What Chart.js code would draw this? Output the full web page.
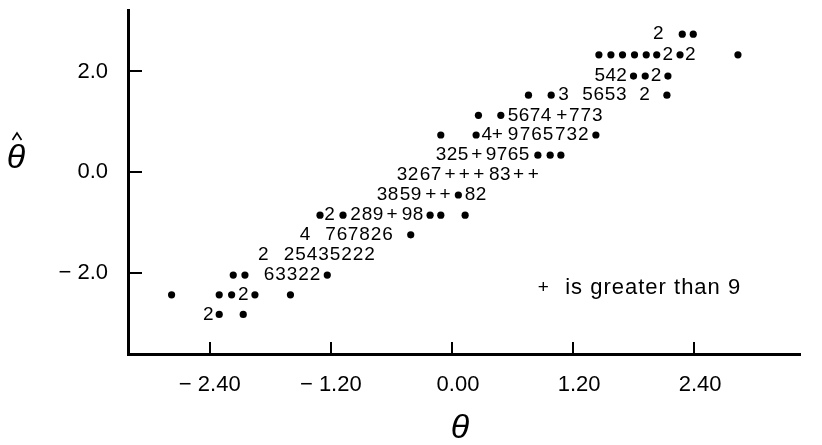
<!DOCTYPE html>
<html>
<head>
<meta charset="utf-8">
<script src="https://cdn.jsdelivr.net/npm/chart.js@4.4.1/dist/chart.umd.min.js"></script>
<style>
  body { margin: 0; background: #fff; }
</style>
</head>
<body>
<canvas id="chart" width="822" height="445"></canvas>
<script>
// axis ticks
const xTicks = [-2.4, -1.2, 0, 1.2, 2.4];
const xTickLabels = ['\u2212 2.40', '\u2212 1.20', '\u20070.00', '\u20071.20', '\u20072.40'];
const yTicks = [-2, 0, 2];
const yTickLabels = ['\u2212 2.0', '0.0', '2.0'];

// theta-hat value of each printed row (top to bottom)
const rowTheta = [2.74, 2.33, 1.91, 1.53, 1.13, 0.74, 0.34, -0.05, -0.45, -0.85, -1.24, -1.64, -2.04, -2.43, -2.82];

// what is printed in each row: a dot is one case, a digit is a count, + is more than 9
const rowSymbols = [
    '2••',
    '••••••2•2•',
    '542••2•',
    '••356532•',
    '••5674+773',
    '••4+9765732•',
    '325+9765•••',
    '3267+++83++',
    '3859++•82',
    '•2•289+98•••',
    '4767826•',
    '225435222',
    '••63322•',
    '•••2••',
    '2••'
];

// theta value of each symbol above
const rowPositions = [
    [2.045, 2.283, 2.392],
    [1.457, 1.576, 1.691, 1.810, 1.926, 2.030, 2.139, 2.261, 2.362, 2.835],
    [1.465, 1.574, 1.681, 1.800, 1.916, 2.023, 2.141],
    [0.759, 0.984, 1.106, 1.344, 1.455, 1.567, 1.678, 1.909, 2.131],
    [0.263, 0.485, 0.607, 0.716, 0.825, 0.934, 1.090, 1.212, 1.326, 1.440],
    [-0.110, 0.240, 0.346, 0.451, 0.607, 0.726, 0.840, 0.954, 1.073, 1.187, 1.301, 1.427],
    [-0.107, 0.002, 0.111, 0.247, 0.389, 0.498, 0.607, 0.716, 0.852, 0.974, 1.080],
    [-0.494, -0.385, -0.266, -0.157, -0.018, 0.124, 0.267, 0.419, 0.528, 0.660, 0.808],
    [-0.692, -0.583, -0.464, -0.355, -0.209, -0.067, 0.064, 0.181, 0.290],
    [-1.307, -1.213, -1.079, -0.955, -0.841, -0.732, -0.593, -0.444, -0.335, -0.216, -0.110, 0.131],
    [-1.456, -1.203, -1.089, -0.980, -0.866, -0.752, -0.638, -0.408],
    [-1.869, -1.615, -1.501, -1.387, -1.272, -1.158, -1.044, -0.930, -0.816],
    [-2.167, -2.051, -1.813, -1.699, -1.585, -1.471, -1.357, -1.235],
    [-2.778, -2.306, -2.183, -2.068, -1.952, -1.600],
    [-2.415, -2.306, -2.068]
];

const FONT = 'Liberation Sans';

// split into single dots and printed counts
const dotPoints = [];
const countPoints = [];
rowTheta.forEach((y, r) => {
    Array.from(rowSymbols[r]).forEach((s, i) => {
        const p = { x: rowPositions[r][i], y: y, s: s };
        if (s === '•') dotPoints.push(p);
        else countPoints.push(p);
    });
});

// digits and + signs drawn at the point positions
const countLabels = {
    id: 'countLabels',
    afterDatasetsDraw(chart) {
        const c = chart.ctx;
        const meta = chart.getDatasetMeta(1);
        c.save();
        c.fillStyle = '#000';
        c.font = '19px "' + FONT + '"';
        c.textAlign = 'center';
        c.textBaseline = 'middle';
        meta.data.forEach((el, i) => {
            c.fillText(countPoints[i].s, el.x, el.y);
        });

        // key inside the plot
        const xs = chart.scales.x, ys = chart.scales.y;
        const ky = ys.getPixelForValue(-2.296);
        c.fillText('+', xs.getPixelForValue(0.905), ky);
        c.textAlign = 'left';
        c.font = '22px "' + FONT + '"';
        c.letterSpacing = '1px';
        c.fillText('is greater than 9', xs.getPixelForValue(1.123), ky);
        c.restore();
    }
};

// theta and theta-hat axis titles
const axisTitles = {
    id: 'axisTitles',
    afterDraw(chart) {
        const c = chart.ctx;
        c.save();
        c.fillStyle = '#000';
        c.strokeStyle = '#000';
        c.font = 'italic 34px "' + FONT + '"';
        c.textAlign = 'center';
        c.textBaseline = 'middle';
        c.fillText('\u03b8', 460, 429);
        c.fillText('\u03b8', 16, 159);
        // hat
        c.lineWidth = 1.6;
        c.beginPath();
        c.moveTo(12.5, 140);
        c.lineTo(17, 133);
        c.lineTo(21.5, 140);
        c.stroke();
        c.restore();
    }
};

new Chart(document.getElementById('chart'), {
    type: 'scatter',
    data: {
        datasets: [
            {
                data: dotPoints,
                pointRadius: 3.6,
                pointHoverRadius: 3.6,
                backgroundColor: '#000',
                borderWidth: 0
            },
            {
                data: countPoints,
                pointRadius: 0,
                pointHoverRadius: 0
            }
        ]
    },
    options: {
        responsive: false,
        animation: false,
        events: [],
        layout: { padding: { top: 10, right: 22, left: 0, bottom: 0 } },
        plugins: {
            legend: { display: false },
            tooltip: { enabled: false }
        },
        scales: {
            x: {
                type: 'linear',
                min: -3.21,
                max: 3.45,
                afterBuildTicks: s => { s.ticks = xTicks.map(v => ({ value: v })); },
                afterFit: s => { s.height = 91; s.paddingLeft = 0; s.paddingRight = 0; },
                grid: { drawOnChartArea: false, drawTicks: true, tickLength: -12, color: '#000', lineWidth: 2 },
                border: { color: '#000', width: 3 },
                ticks: {
                    color: '#000',
                    font: { family: FONT, size: 22 },
                    padding: 30,
                    maxRotation: 0,
                    autoSkip: false,
                    callback: (v, i) => xTickLabels[i]
                }
            },
            y: {
                type: 'linear',
                min: -3.605,
                max: 3.22,
                afterBuildTicks: s => { s.ticks = yTicks.map(v => ({ value: v })); },
                afterFit: s => { s.width = 128; s.paddingTop = 0; s.paddingBottom = 0; },
                grid: { drawOnChartArea: false, drawTicks: true, tickLength: -14, color: '#000', lineWidth: 2 },
                border: { color: '#000', width: 3 },
                ticks: {
                    color: '#000',
                    font: { family: FONT, size: 22 },
                    padding: 34,
                    autoSkip: false,
                    callback: (v, i) => yTickLabels[i]
                }
            }
        }
    },
    plugins: [countLabels, axisTitles]
});
</script>
</body>
</html>
